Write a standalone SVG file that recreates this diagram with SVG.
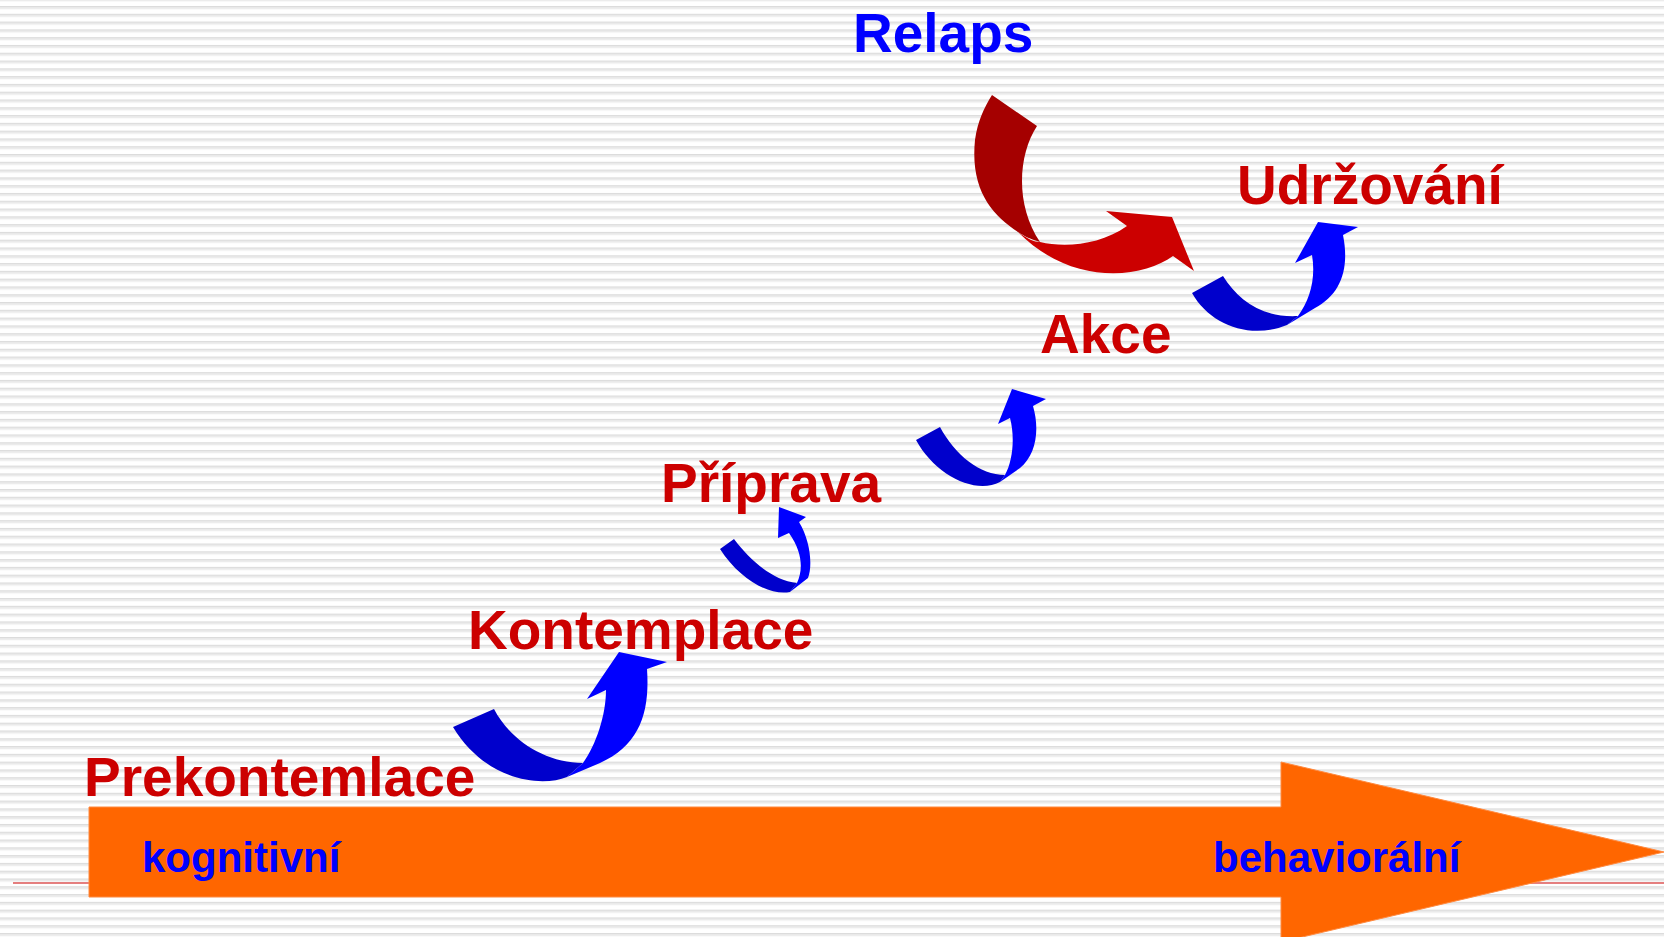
<svg xmlns="http://www.w3.org/2000/svg" width="1664" height="937" viewBox="0 0 1664 937">
<defs>
<pattern id="stripes" x="0" y="6" width="1664" height="7.79" patternUnits="userSpaceOnUse">
<rect x="0" y="0" width="1664" height="1.6" fill="#dcdcdc"/>
<rect x="0" y="1.6" width="1664" height="1.6" fill="#ececec"/>
</pattern>
<style>
.big{font-family:"Liberation Sans",Arial,sans-serif;font-weight:bold;font-size:55px}
.red{fill:#CC0000}
.blue{fill:#0000FF}
.small{font-family:"Liberation Sans",Arial,sans-serif;font-weight:bold;font-size:42px;fill:#0000FF}
.back{fill:#0000CC}
.front{fill:#0000FF}
</style>
</defs>
<rect width="1664" height="937" fill="#ffffff"/>
<rect width="1664" height="937" fill="url(#stripes)"/>
<line x1="13" y1="883" x2="1664" y2="883" stroke="#CC0000" stroke-width="1.2"/>
<g id="axis">
<polygon points="89,807 1281,807 1281,762 1664,852 1281,942 1281,897 89,897" fill="#FF6600" stroke="#FF8A40" stroke-width="1"/>
<text class="small" x="142" y="872">kognitivní</text>
<text class="small" x="1213" y="872">behaviorální</text>
</g>
<g id="connectors">
<g id="arrow1">
<path class="front" d="M583,763 C596,745 606,715 606,690 L587,699 L619,652 L667,662 L647,669 C650,712 640,745 600,763 L567,777 Z"/>
<path class="back" d="M453,727 L494,709 C510,740 545,763 583,763 L567,777 C540,788 485,780 453,727 Z"/>
</g>
<g id="arrow2">
<path class="front" d="M797,583 C803,570 803,553 789,533 L778,538 L779,507 L806,517 L799,522 C810,540 813,565 808,578 L790,592 Z"/>
<path class="back" d="M720,549 L734,539 C750,560 772,580 797,583 L790,592 C770,596 740,580 720,549 Z"/>
</g>
<g id="arrow3">
<path class="front" d="M1005,475 C1013,460 1015,437 1010,418 L998,424 L1012,389 L1046,399 L1033,406 C1040,430 1036,455 1020,468 L1000,482 Z"/>
<path class="back" d="M916,440 L940,427 C955,455 980,475 1005,475 L1000,482 C975,495 935,475 916,440 Z"/>
</g>
<g id="arrow4">
<path class="front" d="M1298,316 C1310,300 1316,278 1312,255 L1295,263 L1318,222 L1358,227 L1343,235 C1350,270 1340,295 1315,308 L1287,325 Z"/>
<path class="back" d="M1192,293 L1223,276 C1238,300 1262,318 1298,316 L1287,325 C1250,340 1210,325 1192,293 Z"/>
</g>
<g id="arrow5">
<path fill="#CC0000" d="M1018,232 C1028,239 1034,242 1040,242 C1065,248 1100,245 1127,226 L1106,211 L1172,217 L1194,271 L1173,256 C1140,280 1070,285 1018,232 Z"/>
<path fill="#A50000" d="M992,95 L1037,126 C1018,155 1015,205 1040,242 C1030,239 1024,236 1018,232 C992,215 970,190 975,140 C978,120 984,108 992,95 Z"/>
</g>
</g>
<g id="node-relaps"><text class="big blue" x="853" y="52">Relaps</text></g>
<g id="node-udrzovani"><text class="big red" x="1237" y="204">Udržování</text></g>
<g id="node-akce"><text class="big red" x="1040" y="353">Akce</text></g>
<g id="node-priprava"><text class="big red" x="661" y="502">Příprava</text></g>
<g id="node-kontemplace"><text class="big red" x="468" y="649">Kontemplace</text></g>
<g id="node-prekontemlace"><text class="big red" x="84" y="796">Prekontemlace</text></g>
</svg>
